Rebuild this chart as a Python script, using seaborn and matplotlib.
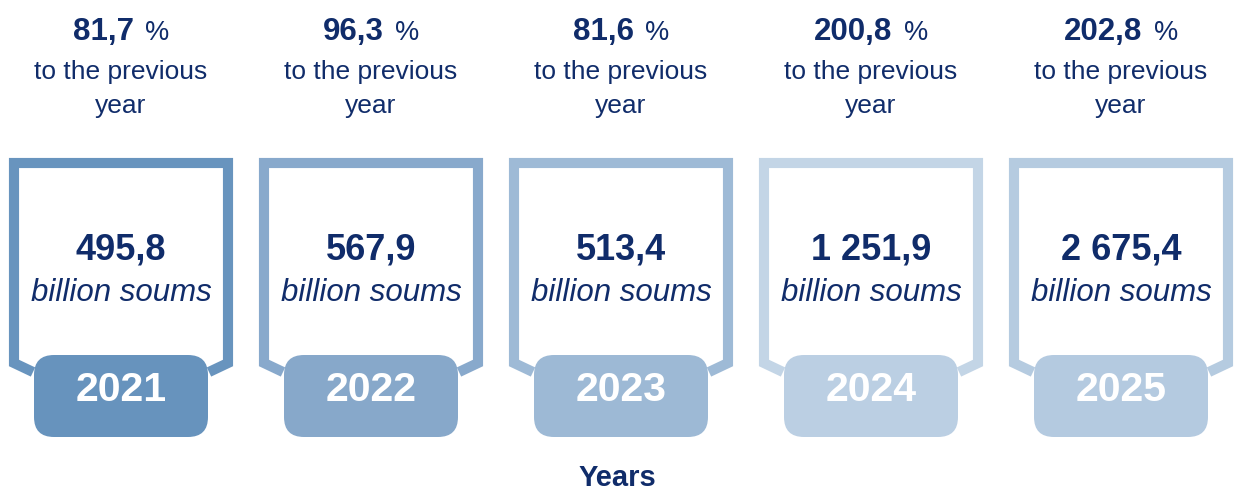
import matplotlib
matplotlib.use("Agg")
import matplotlib.pyplot as plt
import seaborn as sns
from matplotlib.patches import FancyBboxPatch
from matplotlib.offsetbox import TextArea, HPacker, AnnotationBbox

# ---- data ----
years = ["2021", "2022", "2023", "2024", "2025"]
growth_pct = [81.7, 96.3, 81.6, 200.8, 202.8]
values_bn = [495.8, 567.9, 513.4, 1251.9, 2675.4]
frame_colors = ["#6894BE", "#88A9CC", "#9EBAD6", "#C3D5E6", "#B5CBE0"]
badge_colors = ["#6793BD", "#87A8CA", "#9DB9D5", "#BBCFE3", "#B4CAE0"]
growth_caption = "to the previous\nyear"
unit_label = "billion soums"
axis_title = "Years"

NAVY = "#102C6A"


def fmt(v, decimals=1):
    s = f"{v:,.{decimals}f}"
    return s.replace(",", " ").replace(".", ",")


sns.set_theme(style="white")
plt.rcParams["font.family"] = ["Liberation Sans", "DejaVu Sans"]

fig = plt.figure(figsize=(12.35, 4.91), dpi=100)
ax = fig.add_axes([0, 0, 1, 1])
ax.set_xlim(0, 1235)
ax.set_ylim(491, 0)
ax.axis("off")
sns.despine(ax=ax, left=True, bottom=True)

x0, step = 121, 250
for i, yr in enumerate(years):
    cx = x0 + i * step
    # frame (thick outline open at bottom, joining the badge)
    fx = [cx - 88, cx - 107, cx - 107, cx + 107, cx + 107, cx + 88]
    fy = [372, 363, 163, 163, 363, 372]
    ax.plot(fx, fy, color=frame_colors[i], lw=7.3,
            solid_joinstyle="miter", solid_capstyle="butt", zorder=2)
    # badge
    badge = FancyBboxPatch((cx - 87, 355), 174, 82,
                           boxstyle="round,pad=0,rounding_size=20",
                           facecolor=badge_colors[i], edgecolor="none", zorder=3)
    ax.add_patch(badge)
    ax.text(cx, 390, yr, ha="center", va="center", color="white",
            fontsize=29.5, fontweight="bold", zorder=4)
    # value
    ax.text(cx, 250, fmt(values_bn[i]), ha="center", va="center", color=NAVY,
            fontsize=26, fontweight="bold", zorder=4)
    ax.text(cx, 293, unit_label, ha="center", va="center", color=NAVY,
            fontsize=22.5, fontstyle="italic", zorder=4)
    # growth
    num = TextArea(fmt(growth_pct[i]), textprops=dict(color=NAVY, fontsize=22.5,
                                                      fontweight="bold"))
    pct = TextArea("%", textprops=dict(color=NAVY, fontsize=19.5))
    pack = HPacker(children=[num, pct], align="baseline", pad=0, sep=8)
    ab = AnnotationBbox(pack, (cx, 32), xycoords="data", frameon=False,
                        box_alignment=(0.5, 0.5), pad=0)
    ax.add_artist(ab)
    ax.text(cx, 89, growth_caption, ha="center", va="center", color=NAVY,
            fontsize=19, linespacing=1.5)

ax.text(617, 478, axis_title, ha="center", va="center", color=NAVY,
        fontsize=21, fontweight="bold")

fig.savefig("out.png", dpi=100, facecolor="white")
